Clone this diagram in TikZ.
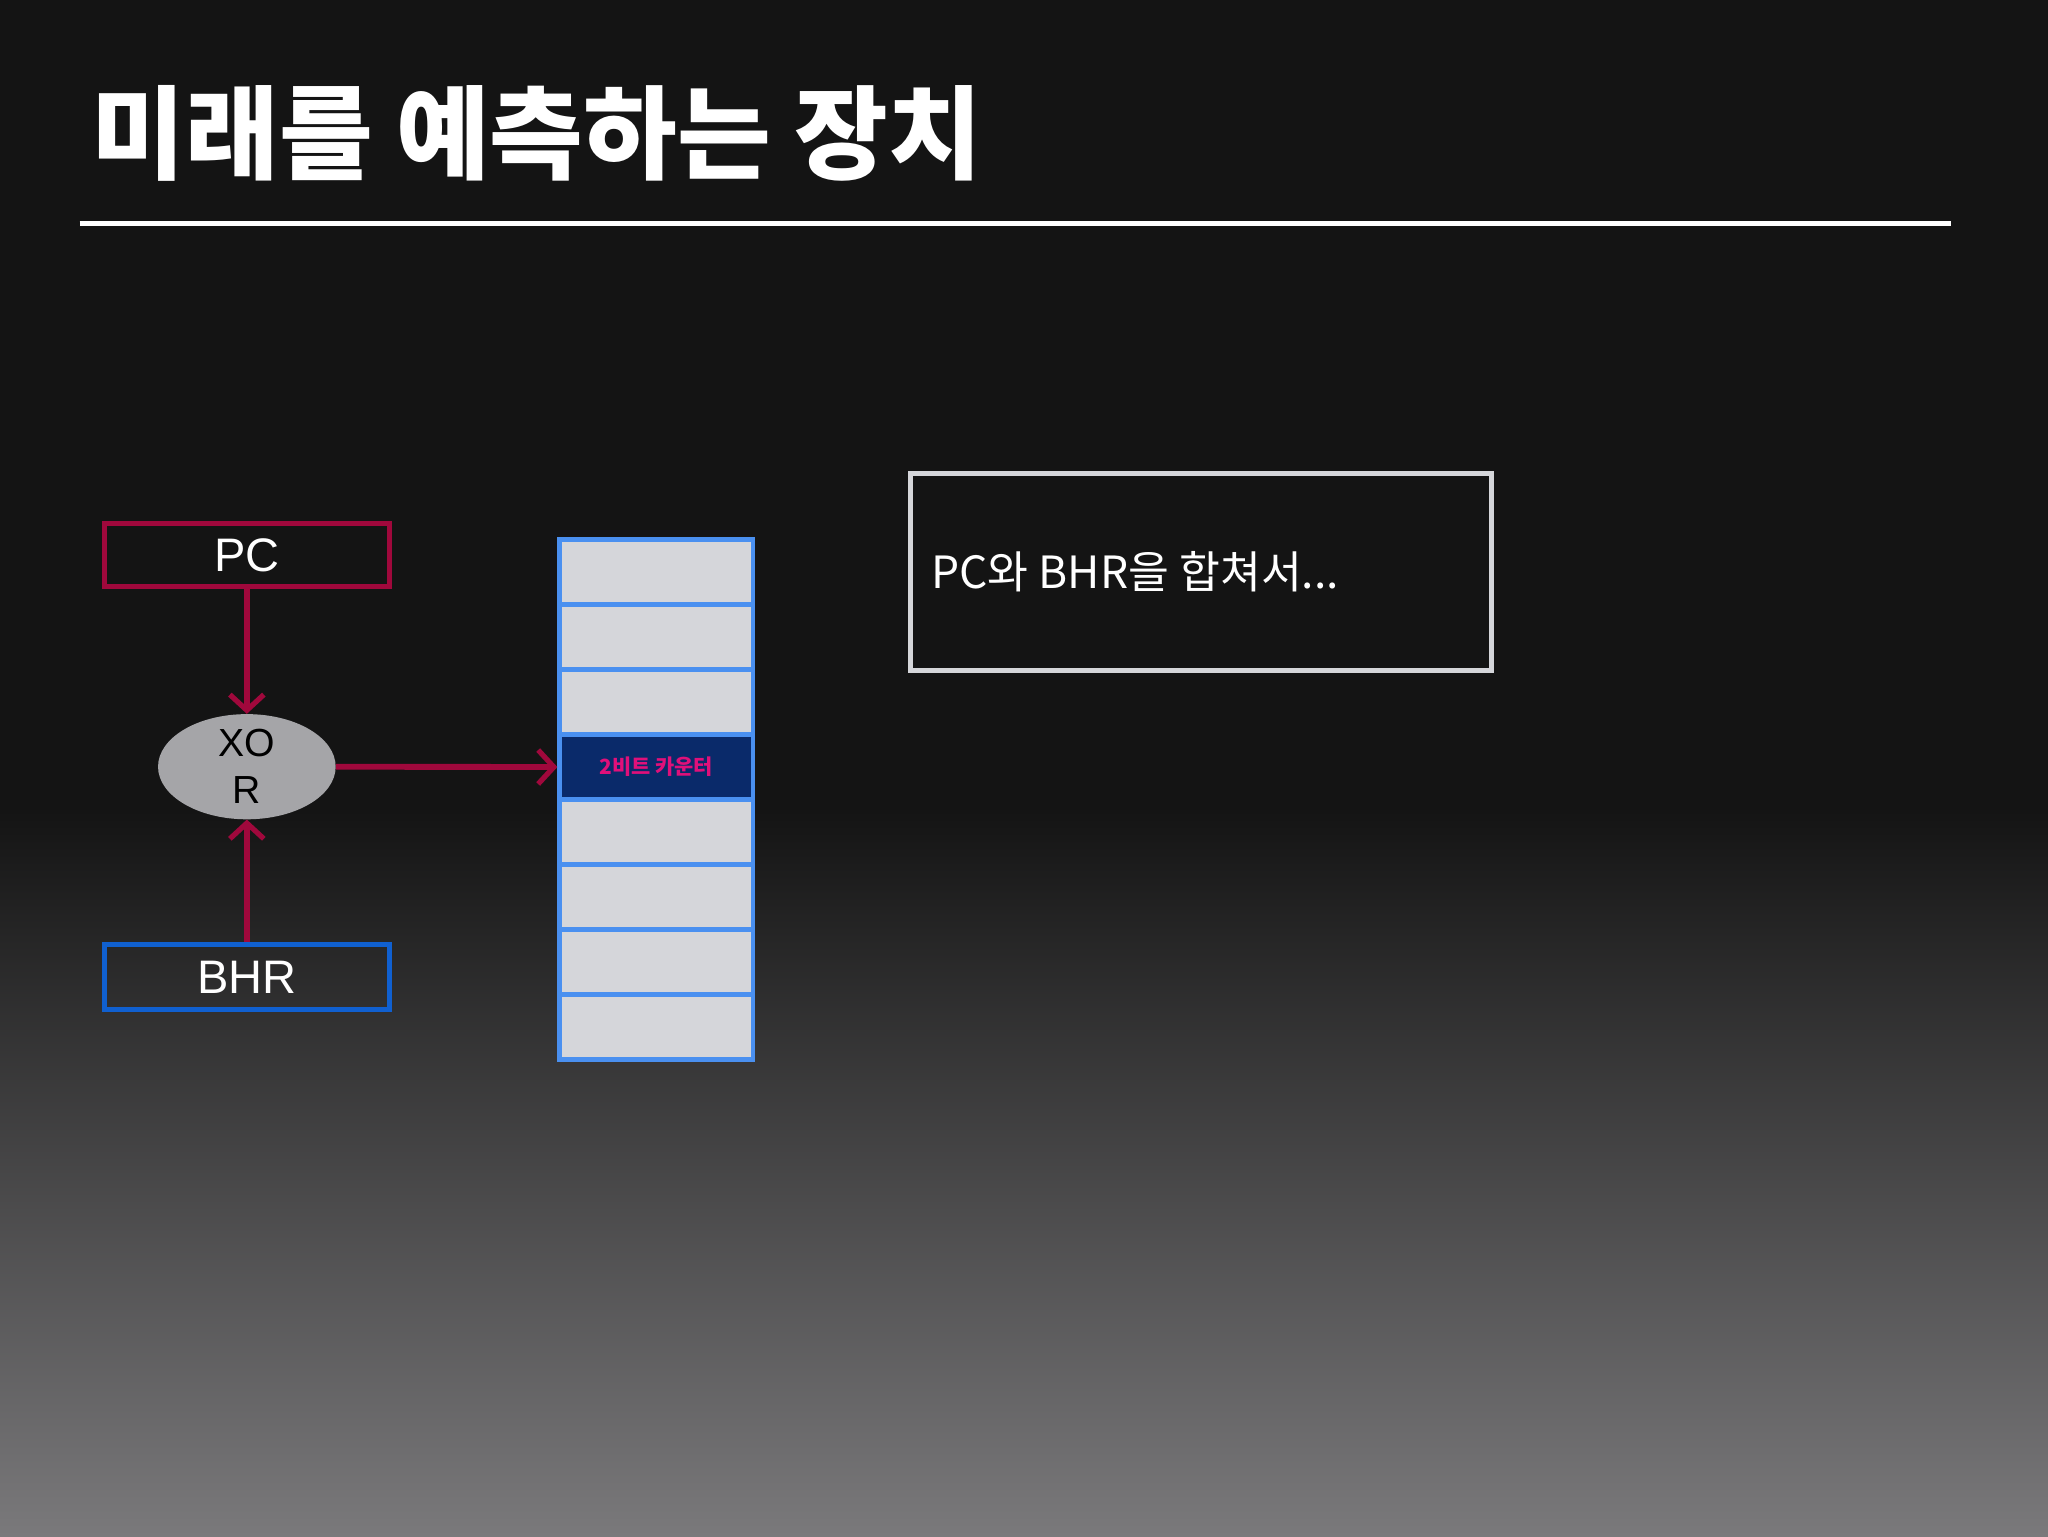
\documentclass[tikz,border=0pt]{standalone}
\usepackage{fontspec}
\setmainfont{Liberation Sans}
\newfontfamily\kr{Noto Sans CJK KR}
\usetikzlibrary{arrows.meta,shapes.geometric}
\definecolor{bgtop}{HTML}{141414}
\definecolor{bgbot}{HTML}{7A797B}
\definecolor{pcred}{HTML}{A0083C}
\definecolor{bhrblue}{HTML}{1060D0}
\definecolor{cellfill}{HTML}{D5D6DA}
\definecolor{cellline}{HTML}{4A90F0}
\definecolor{navy}{HTML}{0A2A6A}
\definecolor{mag}{HTML}{E0107A}
\definecolor{xorfill}{HTML}{A5A5A8}
\begin{document}
\begin{tikzpicture}[x=1pt,y=-1pt,
  regbox/.style={draw,line width=3.5pt,minimum width=218pt,minimum height=48pt,inner sep=0pt,text=white,font=\fontsize{36}{40}\selectfont},
  redarrow/.style={draw=pcred,line width=4.5pt,-{Straight Barb[length=12pt,width=26pt,line width=4pt]}},
  cell/.style={draw=cellline,line width=3.5pt,fill=cellfill,minimum width=148pt,minimum height=49.75pt,inner sep=0pt}]
\useasboundingbox (0,0) rectangle (1568,1176);
\fill[bgtop] (0,0) rectangle (1568,621);
\shade[top color=bgtop,bottom color=bgbot] (0,620) rectangle (1568,1176);
\node[anchor=base west,text=white,inner sep=0pt,font=\kr\bfseries\fontsize{78}{80}\selectfont] (title) at (70,131) {미래를 예측하는 장치};
\draw[white,line width=4pt] (61,171) -- (1494,171);
\node[regbox,draw=pcred] (pc) at (189,425) {PC};
\node[regbox,draw=bhrblue,minimum height=50pt] (bhr) at (189,748) {BHR};
\node[ellipse,fill=xorfill,minimum width=136pt,minimum height=74pt,inner sep=0pt,align=center,font=\fontsize{30}{36}\selectfont] (xor) at (189,587) {XO\\R};
\foreach \i in {0,...,7}{
  \node[cell] (c\i) at (502.5,{438+49.75*\i}) {};
}
\node[cell,fill=navy,text=mag,font=\kr\bfseries\fontsize{16}{18}\selectfont] (ctr) at (502.5,{438+49.75*3}) {2비트 카운터};
\draw[redarrow] (pc.south) -- (xor.north);
\draw[redarrow] (bhr.north) -- (xor.south);
\draw[redarrow] (xor.east) -- (ctr.west);
\node[draw=cellfill,line width=3.5pt,minimum width=445pt,minimum height=151pt,inner sep=0pt] (note) at (919.5,438) {};
\node[anchor=west,text=white,inner sep=0pt,font=\kr\fontsize{34}{38}\selectfont] (notetext) at (713,438) {PC와 BHR을 합쳐서...};
\end{tikzpicture}
\end{document}
